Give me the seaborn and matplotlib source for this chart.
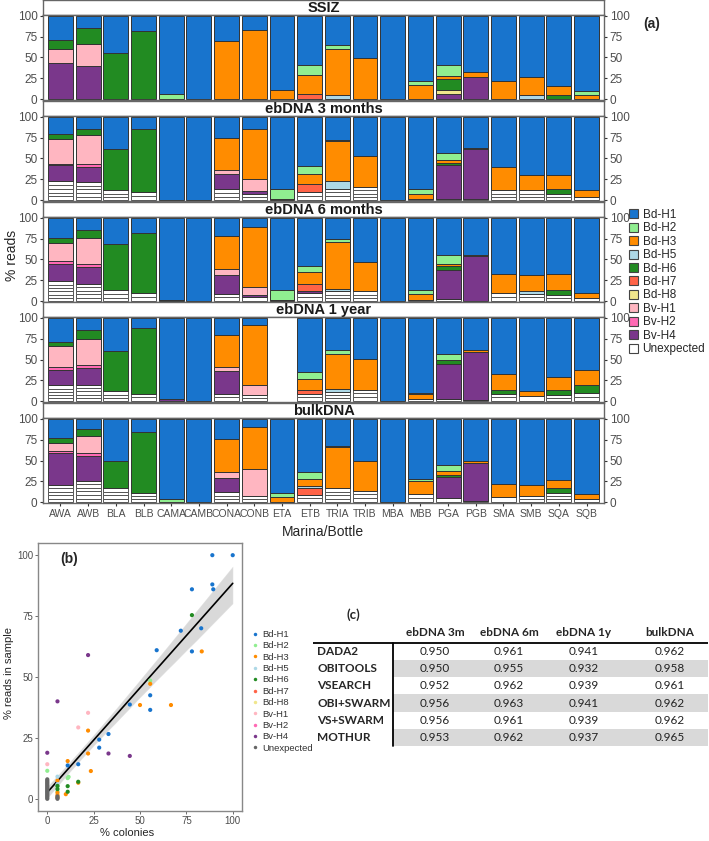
import numpy as np
import pandas as pd
import matplotlib
matplotlib.use('Agg')
import matplotlib.pyplot as plt
import seaborn as sns
from matplotlib.patches import Patch
from matplotlib.lines import Line2D

# ---- data ----
samples = ['AWA', 'AWB', 'BLA', 'BLB', 'CAMA', 'CAMB', 'CONA', 'CONB', 'ETA', 'ETB',
           'TRIA', 'TRIB', 'MBA', 'MBB', 'PGA', 'PGB', 'SMA', 'SMB', 'SQA', 'SQB']

haps = ['Bd-H1', 'Bd-H2', 'Bd-H3', 'Bd-H5', 'Bd-H6', 'Bd-H7', 'Bd-H8',
        'Bv-H1', 'Bv-H2', 'Bv-H4', 'Unexpected']
hap_colors = ['#1874CD', '#90EE90', '#FF8C00', '#ADD8E6', '#228B22', '#FF6347',
              '#F0E68C', '#FFB6C1', '#FF69B4', '#7A378B', '#FFFFFF']

# % reads per haplotype (Bd-H1 = remainder up to 100)
ssiz = {
    'AWA': {'Bv-H4': 44, 'Bv-H1': 16, 'Bd-H6': 11},
    'AWB': {'Bv-H4': 40, 'Bv-H1': 26, 'Bd-H6': 19},
    'BLA': {'Bd-H6': 56}, 'BLB': {'Bd-H6': 82},
    'CAMA': {'Bd-H2': 6}, 'CAMB': {},
    'CONA': {'Bd-H3': 70}, 'CONB': {'Bd-H3': 83}, 'ETA': {'Bd-H3': 11},
    'ETB': {'Bd-H7': 6, 'Bd-H3': 23, 'Bd-H2': 12},
    'TRIA': {'Bd-H5': 5, 'Bd-H3': 55, 'Bd-H2': 5},
    'TRIB': {'Bd-H3': 49}, 'MBA': {},
    'MBB': {'Bd-H3': 17, 'Bd-H2': 5},
    'PGA': {'Bv-H4': 6, 'Bd-H8': 5, 'Bd-H6': 13, 'Bd-H3': 4, 'Bd-H2': 13},
    'PGB': {'Bv-H4': 27, 'Bd-H3': 6},
    'SMA': {'Bd-H3': 22}, 'SMB': {'Bd-H5': 5, 'Bd-H3': 22},
    'SQA': {'Bd-H6': 5, 'Bd-H3': 11}, 'SQB': {'Bd-H3': 5, 'Bd-H2': 5},
}
eb3m = {
    'AWA': {'Unexpected': 23, 'Bv-H4': 19, 'Bv-H2': 2, 'Bv-H1': 29, 'Bd-H6': 6},
    'AWB': {'Unexpected': 22, 'Bv-H4': 18, 'Bv-H2': 3, 'Bv-H1': 35, 'Bd-H6': 8},
    'BLA': {'Unexpected': 12, 'Bd-H6': 49}, 'BLB': {'Unexpected': 10, 'Bd-H6': 75},
    'CAMA': {}, 'CAMB': {},
    'CONA': {'Unexpected': 13, 'Bv-H4': 19, 'Bv-H1': 4, 'Bd-H3': 39},
    'CONB': {'Unexpected': 8, 'Bv-H4': 3, 'Bv-H1': 14, 'Bd-H3': 61},
    'ETA': {'Bd-H3': 2, 'Bd-H2': 12},
    'ETB': {'Unexpected': 10, 'Bd-H7': 10, 'Bd-H3': 12, 'Bd-H2': 9},
    'TRIA': {'Unexpected': 14, 'Bd-H5': 9, 'Bd-H3': 48, 'Bd-H2': 1.5},
    'TRIB': {'Unexpected': 16, 'Bd-H3': 37}, 'MBA': {},
    'MBB': {'Unexpected': 2, 'Bd-H3': 6, 'Bd-H2': 5},
    'PGA': {'Unexpected': 2, 'Bv-H4': 40, 'Bd-H6': 3, 'Bd-H3': 3, 'Bd-H2': 9},
    'PGB': {'Unexpected': 2, 'Bv-H4': 59, 'Bd-H3': 1.5},
    'SMA': {'Unexpected': 12, 'Bd-H3': 28}, 'SMB': {'Unexpected': 12, 'Bd-H3': 18},
    'SQA': {'Unexpected': 8, 'Bd-H6': 5, 'Bd-H3': 17}, 'SQB': {'Unexpected': 4, 'Bd-H3': 8},
}
eb6m = {
    'AWA': {'Unexpected': 24, 'Bv-H4': 21, 'Bv-H2': 3, 'Bv-H1': 22, 'Bd-H6': 6},
    'AWB': {'Unexpected': 21, 'Bv-H4': 20, 'Bv-H2': 4, 'Bv-H1': 31, 'Bd-H6': 9},
    'BLA': {'Unexpected': 13, 'Bd-H6': 56}, 'BLB': {'Unexpected': 10, 'Bd-H6': 72},
    'CAMA': {'Bd-H6': 1}, 'CAMB': {},
    'CONA': {'Unexpected': 9, 'Bv-H4': 23, 'Bv-H1': 7, 'Bd-H3': 39},
    'CONB': {'Unexpected': 5, 'Bv-H4': 3, 'Bv-H1': 9, 'Bd-H3': 72},
    'ETA': {'Bd-H3': 1, 'Bd-H2': 12},
    'ETB': {'Unexpected': 10, 'Bv-H4': 2, 'Bd-H7': 9, 'Bd-H3': 14, 'Bd-H2': 7},
    'TRIA': {'Unexpected': 12, 'Bd-H5': 2.5, 'Bd-H3': 57, 'Bd-H2': 3},
    'TRIB': {'Unexpected': 12, 'Bd-H3': 35}, 'MBA': {},
    'MBB': {'Unexpected': 2, 'Bd-H3': 7, 'Bd-H2': 4.5},
    'PGA': {'Unexpected': 3, 'Bv-H4': 35, 'Bd-H6': 4, 'Bd-H3': 3, 'Bd-H2': 11},
    'PGB': {'Bv-H4': 54, 'Bd-H3': 2},
    'SMA': {'Unexpected': 10, 'Bd-H3': 23}, 'SMB': {'Unexpected': 9, 'Bd-H5': 3, 'Bd-H3': 19},
    'SQA': {'Unexpected': 8, 'Bd-H6': 6, 'Bd-H3': 19}, 'SQB': {'Unexpected': 4, 'Bd-H3': 6},
}
eb1y = {
    'AWA': {'Unexpected': 19, 'Bv-H4': 19, 'Bv-H2': 3, 'Bv-H1': 25, 'Bd-H6': 5},
    'AWB': {'Unexpected': 20, 'Bv-H4': 20, 'Bv-H2': 4, 'Bv-H1': 31, 'Bd-H6': 10},
    'BLA': {'Unexpected': 12, 'Bd-H6': 48}, 'BLB': {'Unexpected': 9, 'Bd-H6': 79},
    'CAMA': {'Bv-H4': 2.5}, 'CAMB': {},
    'CONA': {'Unexpected': 9, 'Bv-H4': 27, 'Bv-H1': 5, 'Bd-H3': 38},
    'CONB': {'Unexpected': 7, 'Bv-H1': 13, 'Bd-H3': 71},
    'ETA': None,
    'ETB': {'Unexpected': 9, 'Bd-H7': 5, 'Bd-H3': 13, 'Bd-H2': 8},
    'TRIA': {'Unexpected': 11, 'Bd-H5': 4, 'Bd-H3': 42, 'Bd-H2': 4},
    'TRIB': {'Unexpected': 14, 'Bd-H3': 37}, 'MBA': {},
    'MBB': {'Unexpected': 3, 'Bd-H3': 6, 'Bd-H2': 1},
    'PGA': {'Unexpected': 3, 'Bv-H4': 42, 'Bd-H6': 4, 'Bd-H2': 8},
    'PGB': {'Unexpected': 2, 'Bv-H4': 57, 'Bd-H3': 2},
    'SMA': {'Unexpected': 9, 'Bd-H6': 5, 'Bd-H3': 19}, 'SMB': {'Unexpected': 6, 'Bd-H3': 6},
    'SQA': {'Unexpected': 7, 'Bd-H6': 6, 'Bd-H3': 16},
    'SQB': {'Unexpected': 10, 'Bd-H6': 9, 'Bd-H3': 19},
}
bulk = {
    'AWA': {'Unexpected': 21, 'Bv-H4': 38, 'Bv-H2': 3, 'Bv-H1': 9, 'Bd-H6': 6},
    'AWB': {'Unexpected': 26, 'Bv-H4': 30, 'Bv-H2': 3, 'Bv-H1': 21, 'Bd-H6': 8},
    'BLA': {'Unexpected': 17, 'Bd-H6': 32}, 'BLB': {'Unexpected': 11, 'Bd-H6': 73},
    'CAMA': {'Bd-H2': 4}, 'CAMB': {},
    'CONA': {'Unexpected': 12, 'Bv-H4': 17, 'Bv-H1': 7, 'Bd-H3': 40},
    'CONB': {'Unexpected': 7, 'Bv-H1': 33, 'Bd-H3': 50},
    'ETA': {'Bd-H3': 6, 'Bd-H2': 5},
    'ETB': {'Unexpected': 9, 'Bd-H7': 8, 'Bd-H5': 2, 'Bd-H3': 9, 'Bd-H2': 8},
    'TRIA': {'Unexpected': 17, 'Bd-H3': 49, 'Bd-H2': 2},
    'TRIB': {'Unexpected': 14, 'Bd-H3': 36}, 'MBA': {},
    'MBB': {'Unexpected': 10, 'Bd-H3': 16, 'Bd-H2': 2},
    'PGA': {'Unexpected': 5, 'Bv-H4': 25, 'Bd-H6': 3, 'Bd-H3': 4, 'Bd-H2': 8},
    'PGB': {'Unexpected': 2, 'Bv-H4': 45, 'Bd-H3': 2},
    'SMA': {'Unexpected': 6, 'Bd-H3': 16}, 'SMB': {'Unexpected': 8, 'Bd-H3': 13},
    'SQA': {'Unexpected': 11, 'Bd-H6': 6, 'Bd-H3': 10}, 'SQB': {'Unexpected': 4, 'Bd-H3': 6},
}
panel_titles = ['SSIZ', 'ebDNA 3 months', 'ebDNA 6 months', 'ebDNA 1 year', 'bulkDNA']
panel_data = [ssiz, eb3m, eb6m, eb1y, bulk]

# (b) % colonies vs % reads
sc_hap = (['Bd-H1'] * 17 + ['Bd-H2'] * 6 + ['Bd-H3'] * 14 + ['Bd-H5'] * 3 + ['Bd-H6'] * 6
          + ['Bv-H1'] * 3 + ['Bv-H4'] * 5 + ['Unexpected'] * 20)
sc_x = [89, 100, 78, 89, 89.5, 72, 83, 78, 59, 55.5, 55.5, 44.5, 33, 28, 28, 16.7, 11,
        0, 11, 11.5, 5.5, 55.5, 5.5,
        83.3, 66.7, 50, 55.5, 22, 22, 23.5, 11, 16.7, 10, 5.5, 5.5, 5.5, 5.5,
        5.5, 0, 5.5,
        78, 11, 11, 16.7, 5.5, 5.5,
        22, 16.7, 0,
        22, 5.5, 33, 44.5, 0,
        0, 0, 0, 0, 0, 0, 0, 0, 0, 0, 0, 0, 0, 0, 0, 0, 0, 5.5, 5.5, 5.5]
sc_y = [100, 100, 86, 88, 86, 69, 70, 60.5, 61, 42.5, 36.5, 38.7, 26.6, 24.3, 21, 14.2, 13.7,
        11.5, 8.5, 9, 5, 48.5, 3,
        60.5, 38.5, 38.5, 47.2, 28, 18.6, 11.4, 15.5, 6.6, 1.9, 7.5, 1.5, 0.5, 2.5,
        9.1, 3, 6,
        75.4, 5.2, 2.9, 7, 5.3, 4,
        35.3, 29.3, 14.2,
        59, 40, 18.6, 17.6, 18.9,
        0, 0.5, 1, 1.5, 2, 2.5, 3, 3.5, 4, 4.5, 5, 5.5, 6, 6.5, 7, 7.5, 8, 0, 0.5, 1]

# (c) table
methods = ['DADA2', 'OBITOOLS', 'VSEARCH', 'OBI+SWARM', 'VS+SWARM', 'MOTHUR']
tab_cols = ['ebDNA 3m', 'ebDNA 6m', 'ebDNA 1y', 'bulkDNA']
tab_vals = [[0.950, 0.961, 0.941, 0.962],
            [0.950, 0.955, 0.932, 0.958],
            [0.952, 0.962, 0.939, 0.961],
            [0.956, 0.963, 0.941, 0.962],
            [0.956, 0.961, 0.939, 0.962],
            [0.953, 0.962, 0.937, 0.965]]

# ---- figure ----
sns.set_theme(style='white')
plt.rcParams['font.family'] = ['Liberation Sans', 'DejaVu Sans']
W, H = 709, 841
fig = plt.figure(figsize=(W / 100, H / 100), dpi=100)


def box(l, t, r, b):
    return [l / W, 1 - b / H, (r - l) / W, (b - t) / H]


cmap = dict(zip(haps, hap_colors))
stack_order = haps[::-1]  # Unexpected at bottom, Bd-H1 on top
txt_grey = '#4D4D4D'
strip_tops = [0, 101, 202, 302, 403]

for i, (title, data) in enumerate(zip(panel_titles, panel_data)):
    t = strip_tops[i]
    sax = fig.add_axes(box(43, t, 604, t + 15))
    sax.set_xticks([]); sax.set_yticks([])
    for s in sax.spines.values():
        s.set_color('#666666'); s.set_linewidth(1.0)
    sax.text(0.5, 0.45, title, ha='center', va='center', fontsize=10.5,
             fontweight='bold', color='#1a1a1a', transform=sax.transAxes)

    ax = fig.add_axes(box(43, t + 15, 604, t + 100))
    for j, smp in enumerate(samples):
        d = data[smp]
        if d is None:
            continue
        vals = dict(d)
        vals['Bd-H1'] = 100 - sum(vals.values())
        bottom = 0
        for h in stack_order:
            v = vals.get(h, 0)
            if v <= 0:
                continue
            if h == 'Unexpected':
                # several unexpected ASVs, drawn as thin white stripes
                n = max(1, int(round(v / 4.2)))
                for k in range(n):
                    ax.bar(j, v / n, bottom=bottom + k * v / n, width=0.9,
                           color='white', edgecolor='#555555', linewidth=0.7)
            else:
                ax.bar(j, v, bottom=bottom, width=0.9, color=cmap[h],
                       edgecolor='#333333', linewidth=0.7)
            bottom += v
    ax.set_xlim(-0.63, 19.63)
    ax.set_ylim(-1, 101)
    ax.set_yticks([0, 25, 50, 75, 100])
    ax.tick_params(axis='y', left=True, right=True, labelleft=True, labelright=True,
                   length=2.5, width=0.8, color='#333333', labelcolor=txt_grey,
                   labelsize=8.5, pad=1.5)
    for s in ax.spines.values():
        s.set_color('#666666'); s.set_linewidth(1.0)
    if i == len(panel_titles) - 1:
        ax.set_xticks(range(len(samples)))
        ax.set_xticklabels(samples, fontsize=7.5, color=txt_grey)
        ax.tick_params(axis='x', bottom=True, length=2.5, width=0.8, color='#333333', pad=1.5)
    else:
        ax.set_xticks([])

fig.text(323 / W, 1 - 532 / H, 'Marina/Bottle', ha='center', va='center', fontsize=10)
fig.text(12 / W, 1 - 255 / H, '% reads', ha='center', va='center', rotation=90, fontsize=10)
fig.text(652 / W, 1 - 24 / H, '(a)', ha='center', va='center', fontsize=10, fontweight='bold')

leg_handles = [Patch(facecolor=cmap[h], edgecolor='#444444', linewidth=0.8) for h in haps]
fig.legend(leg_handles, haps, loc='upper left', bbox_to_anchor=(629 / W, 1 - 209 / H),
           frameon=False, fontsize=8.5, handlelength=0.8, handleheight=0.8,
           handletextpad=0.35, labelspacing=0.12, borderpad=0, borderaxespad=0)

# ---- (b) scatter ----
sc_df = pd.DataFrame({'hap': sc_hap, 'x': sc_x, 'y': sc_y})
sc_pal = dict(cmap)
sc_pal['Unexpected'] = '#666666'
bax = fig.add_axes(box(38, 543, 242, 811))
sns.regplot(data=sc_df, x='x', y='y', scatter=False, color='black',
            line_kws={'linewidth': 1.2}, ax=bax)
sns.scatterplot(data=sc_df, x='x', y='y', hue='hap', palette=sc_pal, s=9,
                edgecolor='none', legend=False, ax=bax, zorder=3)
bax.set_xlim(-5, 105)
bax.set_ylim(-5, 105)
bax.set_xticks([0, 25, 50, 75, 100])
bax.set_yticks([0, 25, 50, 75, 100])
bax.set_xlabel('')
bax.set_ylabel('')
bax.tick_params(length=2, width=0.6, color='#555555', labelcolor=txt_grey,
                labelsize=7, pad=1.5, bottom=True, left=True)
for s in bax.spines.values():
    s.set_color('#888888'); s.set_linewidth(1.0)
bax.text(0.11, 0.94, '(b)', transform=bax.transAxes, fontsize=10, fontweight='bold',
         ha='left', va='center')
fig.text(127 / W, 1 - 833 / H, '% colonies', ha='center', va='center', fontsize=8)
fig.text(9 / W, 1 - 673 / H, '% reads in sample', ha='center', va='center',
         rotation=90, fontsize=8)

sc_handles = [Line2D([], [], marker='o', linestyle='none', markersize=2.5,
                     markerfacecolor=sc_pal[h], markeredgecolor='none') for h in haps]
fig.legend(sc_handles, haps, loc='upper left', bbox_to_anchor=(251 / W, 1 - 630 / H),
           frameon=False, fontsize=6.8, handlelength=0.8, handletextpad=0.4,
           labelspacing=0.25, borderpad=0, borderaxespad=0, labelcolor='#333333')

# ---- (c) table ----
tax = fig.add_axes(box(313, 600, 708, 760))
tax.set_xlim(313, 708)
tax.set_ylim(760, 600)
tax.axis('off')
tfont = ['Lato', 'DejaVu Sans']
row_h = 17.3
head_line = 642.5
col_x = [435, 509, 584, 670]
tax.text(353, 615, '(c)', ha='center', va='center', fontsize=9.5, fontweight='bold',
         family=tfont)
for c, name in zip(col_x, tab_cols):
    tax.text(c, 632, name, ha='center', va='center', fontsize=8.5, fontweight='bold',
             family=tfont)
for r, (m, row) in enumerate(zip(methods, tab_vals)):
    y0 = head_line + r * row_h
    if r % 2 == 1:
        tax.fill_between([393, 708], y0, y0 + row_h, color='#D9D9D9', linewidth=0)
    tax.text(317, y0 + row_h / 2, m, ha='left', va='center', fontsize=8.5,
             fontweight='bold', family=tfont)
    for c, v in zip(col_x, row):
        tax.text(c, y0 + row_h / 2, f'{v:.3f}', ha='center', va='center', fontsize=8.5,
                 family=tfont, color='#222222')
tax.plot([313, 708], [head_line, head_line], color='black', linewidth=1.3)
tax.plot([393, 393], [head_line, head_line + 6 * row_h], color='black', linewidth=1.3)

fig.savefig('out.png', dpi=100)
